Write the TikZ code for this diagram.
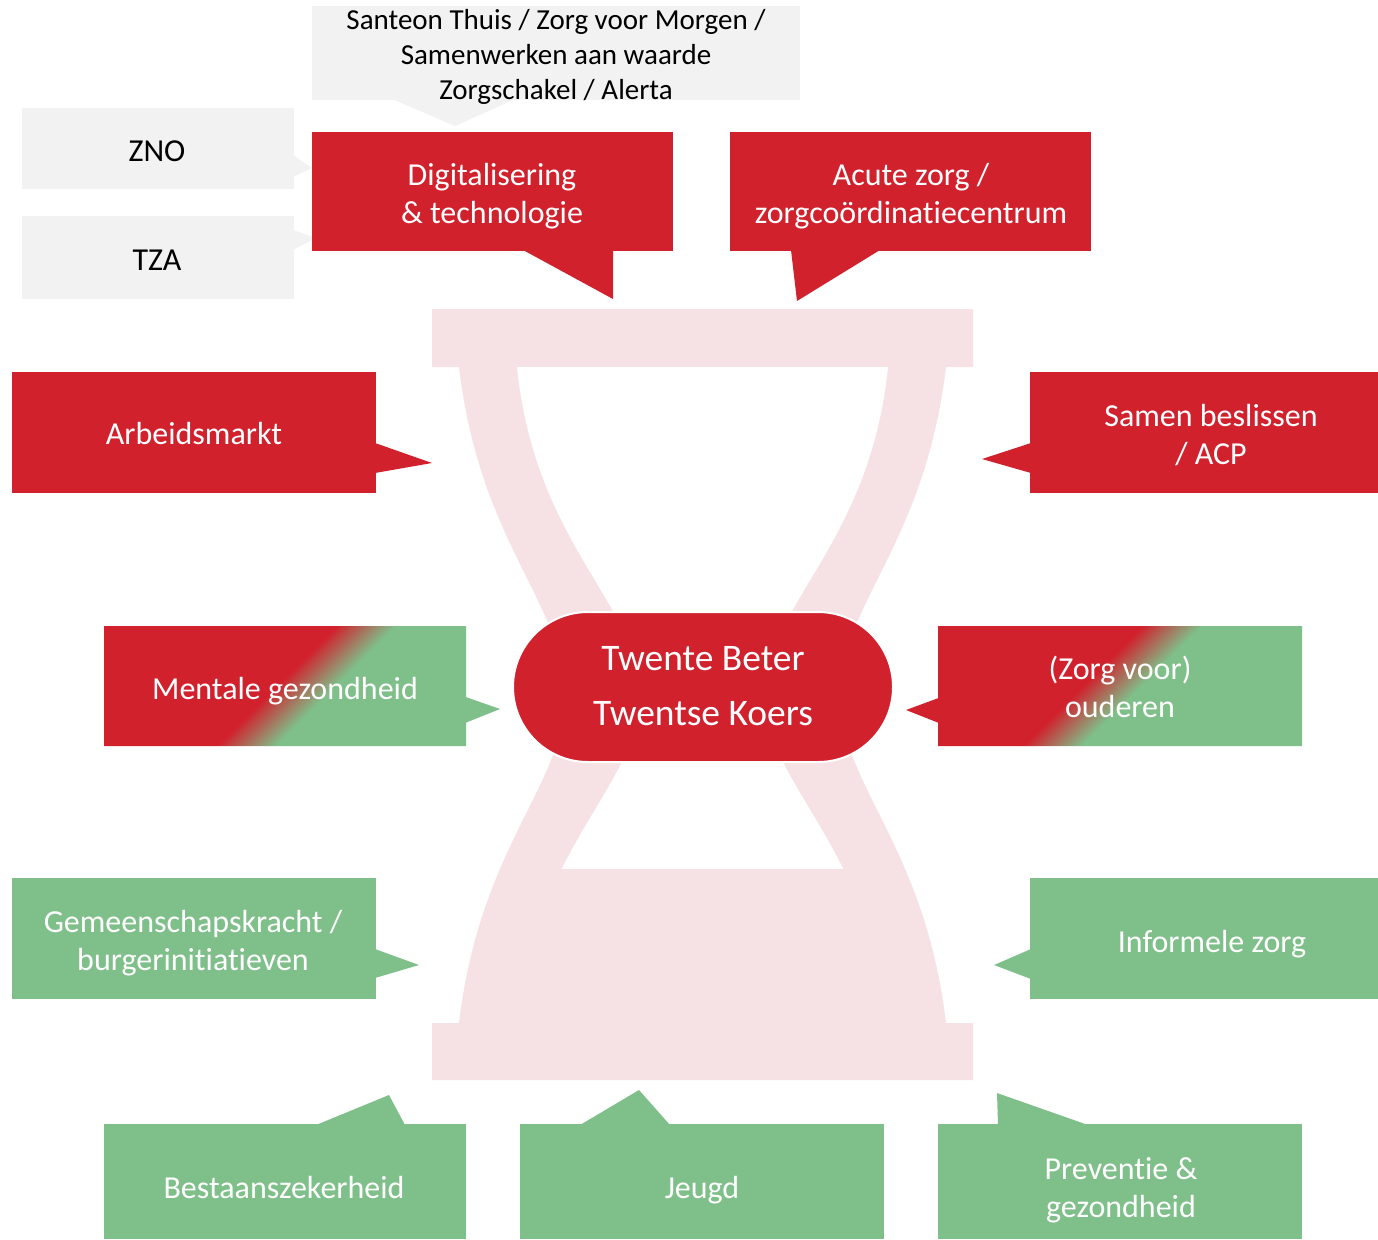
\documentclass[tikz,border=0pt]{standalone}
\usepackage{fontspec}
\setmainfont[Ligatures=NoCommon]{Carlito}
\usepackage{tikz}

\definecolor{zred}{RGB}{209,33,45}
\definecolor{zgreen}{RGB}{127,192,138}
\definecolor{zgray}{RGB}{242,242,242}
\definecolor{sand}{RGB}{246,226,228}
\pgfdeclarehorizontalshading{redgreen}{100bp}{color(0bp)=(zred); color(47.5bp)=(zred); color(52.5bp)=(zgreen); color(100bp)=(zgreen)}

\begin{document}
\begin{tikzpicture}[x=1pt, y=-1pt,
    txt/.style={text=white, align=center, font=\fontsize{32}{38}\selectfont},
    graytxt/.style={text=black, align=center, font=\fontsize{29}{35}\selectfont}]
    \useasboundingbox (0,0) rectangle (1378,1239);

    % zandloper
    \fill[sand] (432,309) -- (973,309) -- (973,367) -- (946,367)
        .. controls (925,545) and (840,605) .. (840,695)
        .. controls (840,785) and (925,845) .. (946,1023)
        -- (973,1023) -- (973,1080) -- (432,1080) -- (432,1023) -- (459,1023)
        .. controls (480,845) and (565,785) .. (565,695)
        .. controls (565,605) and (480,545) .. (459,367)
        -- (432,367) -- cycle;
    \begin{scope}
        \clip (0,0) rectangle (1378,868);
        \fill[white] (517,367)
            .. controls (535,545) and (640,605) .. (640,695)
            .. controls (640,785) and (535,845) .. (517,1023)
            -- (888,1023)
            .. controls (870,845) and (765,785) .. (765,695)
            .. controls (765,605) and (870,545) .. (888,367) -- cycle;
    \end{scope}

    % grijze blokken
    \fill[zgray] (312,6) rectangle (800,100);
    \fill[zgray] (392,99) -- (455,126) -- (515,99) -- cycle;
    \node[graytxt] (santeon) at (556,57) {Santeon Thuis / Zorg voor Morgen /\\Samenwerken aan waarde\\Zorgschakel / Alerta};
    \fill[zgray] (22,108) rectangle (294,189);
    \fill[zgray] (293,155) -- (312,168) -- (293,177) -- cycle;
    \node[txt, text=black] (zno) at (157,151) {ZNO};
    \fill[zgray] (22,216) rectangle (294,299);
    \fill[zgray] (293,230) -- (316,238) -- (293,250) -- cycle;
    \node[txt, text=black] (tza) at (157,260) {TZA};

    % rode blokken
    \fill[zred] (312,132) rectangle (673,251);
    \fill[zred] (523,250) -- (613,299) -- (613,250) -- cycle;
    \node[txt] (digi) at (492,196) {Digitalisering\\\& technologie};
    \fill[zred] (730,132) rectangle (1091,251);
    \fill[zred] (791,250) -- (797,301) -- (880,250) -- cycle;
    \node[txt] (acuut) at (911,196) {Acute zorg /\\zorgcoördinatiecentrum};
    \fill[zred] (12,372) rectangle (376,493);
    \fill[zred] (375,443) -- (432,463) -- (375,473) -- cycle;
    \node[txt] (arbeid) at (194,434) {Arbeidsmarkt};
    \fill[zred] (1030,372) rectangle (1378,493);
    \fill[zred] (1031,443) -- (982,459) -- (1031,473) -- cycle;
    \node[txt] (samen) at (1211,435) {Samen beslissen\\/ ACP};

    % rood-groen blokken
    \begin{scope}
        \clip (104,626) rectangle (466,746) (460,725) -- (500,709) -- (460,695) -- cycle;
        \shade[shading=redgreen, shading angle=-45] (96,476) rectangle (516,896);
    \end{scope}
    \node[txt] (mentaal) at (285,691) {Mentale gezondheid};
    \begin{scope}
        \clip (938,626) rectangle (1302,746) (944,696) -- (906,710) -- (944,725) -- cycle;
        \shade[shading=redgreen, shading angle=-45] (902,476) rectangle (1322,896);
    \end{scope}
    \node[txt] (ouderen) at (1120,687) {(Zorg voor)\\ouderen};

    % groene blokken
    \fill[zgreen] (12,878) rectangle (376,999);
    \fill[zgreen] (375,949) -- (419,965) -- (375,978) -- cycle;
    \node[txt] (gemeen) at (193,943) {Gemeenschapskracht /\\burgerinitiatieven};
    \fill[zgreen] (1030,878) rectangle (1378,999);
    \fill[zgreen] (1031,949) -- (994,965) -- (1031,979) -- cycle;
    \node[txt] (informeel) at (1212,944) {Informele zorg};
    \fill[zgreen] (104,1124) rectangle (466,1239);
    \fill[zgreen] (316,1125) -- (389,1095) -- (405,1125) -- cycle;
    \node[txt] (bestaan) at (284,1187) {Bestaanszekerheid};
    \fill[zgreen] (520,1124) rectangle (884,1239);
    \fill[zgreen] (580,1125) -- (639,1090) -- (670,1125) -- cycle;
    \node[txt] (jeugd) at (702,1190) {Jeugd};
    \fill[zgreen] (938,1124) rectangle (1302,1239);
    \fill[zgreen] (998,1125) -- (997,1093) -- (1088,1125) -- cycle;
    \node[txt] (preventie) at (1121,1190) {Preventie \&\\gezondheid};

    % midden
    \draw[fill=zred, draw=white, line width=2, rounded corners=75] (513,612) rectangle (893,762);
    \node[text=white, align=center, font=\fontsize{37.5}{55}\selectfont] (koers) at (703,686) {Twente Beter\\Twentse Koers};
\end{tikzpicture}
\end{document}
